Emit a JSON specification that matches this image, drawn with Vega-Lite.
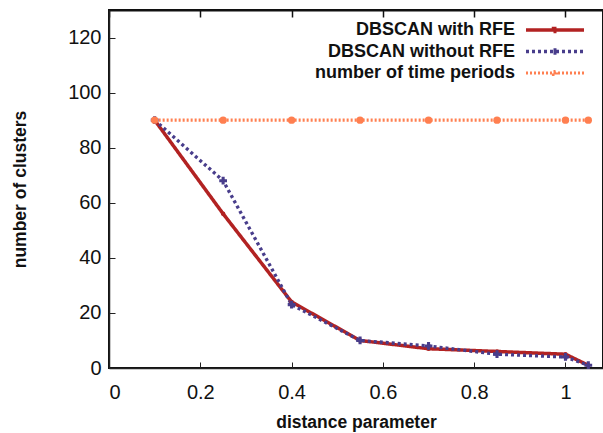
{
  "$schema": "https://vega.github.io/schema/vega-lite/v6.json",
  "autosize": {"type": "none"},
  "width": 494,
  "height": 358,
  "padding": {"left": 109, "top": 10, "right": 0, "bottom": 65},
  "config": {
    "font": "Liberation Sans",
    "view": {"stroke": "#111", "strokeWidth": 2},
    "axis": {"domainColor": "#222", "tickColor": "#222", "labelColor": "#111", "titleColor": "#111", "grid": false, "domainWidth": 1.5}
  },
  "data": {
    "values": [
      {"d": 0.1, "n": 90, "series": "DBSCAN with RFE"},
      {"d": 0.25, "n": 56, "series": "DBSCAN with RFE"},
      {"d": 0.4, "n": 24, "series": "DBSCAN with RFE"},
      {"d": 0.55, "n": 10, "series": "DBSCAN with RFE"},
      {"d": 0.7, "n": 7, "series": "DBSCAN with RFE"},
      {"d": 0.85, "n": 6, "series": "DBSCAN with RFE"},
      {"d": 1.0, "n": 5, "series": "DBSCAN with RFE"},
      {"d": 1.05, "n": 1, "series": "DBSCAN with RFE"},
      {"d": 0.1, "n": 90, "series": "DBSCAN without RFE"},
      {"d": 0.25, "n": 68, "series": "DBSCAN without RFE"},
      {"d": 0.4, "n": 23, "series": "DBSCAN without RFE"},
      {"d": 0.55, "n": 10, "series": "DBSCAN without RFE"},
      {"d": 0.7, "n": 8, "series": "DBSCAN without RFE"},
      {"d": 0.85, "n": 5, "series": "DBSCAN without RFE"},
      {"d": 1.0, "n": 4, "series": "DBSCAN without RFE"},
      {"d": 1.05, "n": 1, "series": "DBSCAN without RFE"},
      {"d": 0.1, "n": 90, "series": "number of time periods"},
      {"d": 0.25, "n": 90, "series": "number of time periods"},
      {"d": 0.4, "n": 90, "series": "number of time periods"},
      {"d": 0.55, "n": 90, "series": "number of time periods"},
      {"d": 0.7, "n": 90, "series": "number of time periods"},
      {"d": 0.85, "n": 90, "series": "number of time periods"},
      {"d": 1.0, "n": 90, "series": "number of time periods"},
      {"d": 1.05, "n": 90, "series": "number of time periods"}
    ]
  },
  "layer": [
    {
      "mark": {"type": "line", "strokeCap": "butt"},
      "encoding": {
        "x": {"field": "d", "type": "quantitative", "scale": {"domain": [0, 1.0822], "nice": false, "zero": false},
          "axis": {"orient": "bottom", "title": "distance parameter", "values": [0, 0.2, 0.4, 0.6, 0.8, 1], "format": "~g", "labelFontSize": 20, "labelPadding": 20, "tickSize": -6, "titleFontSize": 17.5, "titleFontWeight": "bold", "titlePadding": 11}},
        "y": {"field": "n", "type": "quantitative", "scale": {"domain": [0, 130], "nice": false},
          "axis": {"orient": "left", "title": "number of clusters", "values": [0, 20, 40, 60, 80, 100, 120], "labelFontSize": 20, "labelPadding": 14, "tickSize": -6, "titleFontSize": 17.5, "titleFontWeight": "bold", "titlePadding": 38}},
        "color": {"field": "series", "type": "nominal",
          "scale": {"domain": ["DBSCAN with RFE", "DBSCAN without RFE", "number of time periods"], "range": ["#b22222", "#483d8b", "#ff7f50"]},
          "legend": {"title": null, "orient": "top-right", "labelFontSize": 18, "labelFontWeight": "bold", "labelColor": "#111", "labelAlign": "right", "labelOffset": -52, "symbolType": "M-2.9,0H2.9M-0.15,-0.15h0.3v0.3h-0.3zM3.3,0L3.3,0", "symbolSize": 400, "symbolStrokeWidth": 3, "rowPadding": 0.5, "offset": 8, "labelLimit": 400}},
        "strokeDash": {"field": "series", "type": "nominal",
          "scale": {"domain": ["DBSCAN with RFE", "DBSCAN without RFE", "number of time periods"], "range": [[1, 0], [3, 3], [2, 2]]},
          "legend": {"title": null}},
        "strokeWidth": {"field": "series", "type": "nominal",
          "scale": {"domain": ["DBSCAN with RFE", "DBSCAN without RFE", "number of time periods"], "range": [3.5, 3.2, 2.6]},
          "legend": null}
      }
    },
    {
      "transform": [{"filter": "datum.series === 'DBSCAN with RFE'"}],
      "mark": {"type": "point", "filled": true, "opacity": 1, "shape": "circle", "size": 20, "color": "#b22222"},
      "encoding": {
        "x": {"field": "d", "type": "quantitative", "axis": null},
        "y": {"field": "n", "type": "quantitative", "axis": null}
      }
    },
    {
      "transform": [{"filter": "datum.series === 'DBSCAN without RFE'"}],
      "mark": {"type": "point", "filled": true, "opacity": 1, "shape": "cross", "size": 60, "color": "#483d8b"},
      "encoding": {
        "x": {"field": "d", "type": "quantitative",
          "axis": {"orient": "top", "labelOpacity": 0, "labelFontSize": 1, "title": "", "values": [0, 0.2, 0.4, 0.6, 0.8, 1], "ticks": true, "tickSize": -7, "tickWidth": 1.5, "tickColor": "#111", "domain": true, "domainColor": "#111", "domainWidth": 2}},
        "y": {"field": "n", "type": "quantitative", "axis": null}
      }
    },
    {
      "transform": [{"filter": "datum.series === 'number of time periods'"}],
      "mark": {"type": "point", "filled": true, "opacity": 1, "shape": "circle", "size": 55, "color": "#ff7f50"},
      "encoding": {
        "x": {"field": "d", "type": "quantitative", "axis": null},
        "y": {"field": "n", "type": "quantitative", "axis": null}
      }
    }
  ],
  "resolve": {"axis": {"x": "independent", "y": "independent"}}
}
